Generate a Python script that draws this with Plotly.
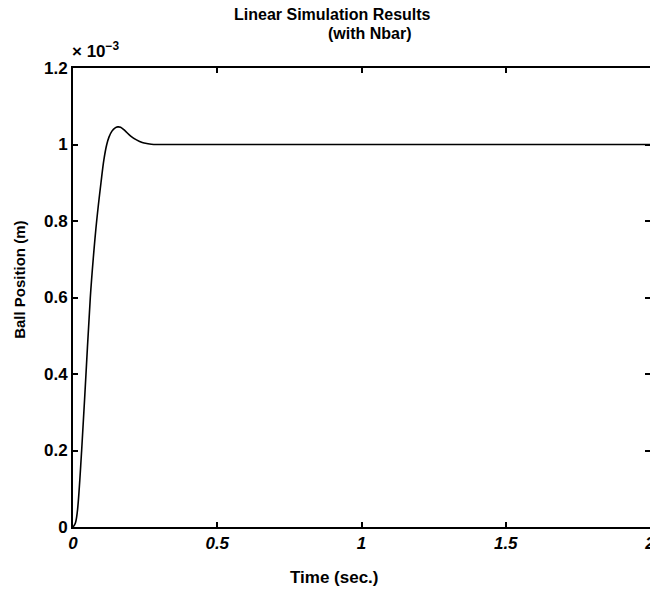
import plotly.graph_objects as go

# Closed-loop step response of the ball position (values in units of 1e-3 m)
time_s = [0, 0.008, 0.015, 0.030, 0.045, 0.060, 0.070, 0.082, 0.097, 0.107,
          0.117, 0.125, 0.135, 0.145, 0.155, 0.165, 0.180, 0.200,
          0.220, 0.240, 0.260, 0.280, 0.300, 2.0]
position_e3 = [0, 0.01, 0.04, 0.20, 0.40, 0.60, 0.70, 0.80, 0.90, 0.96,
               1.0, 1.02, 1.035, 1.043, 1.046, 1.045, 1.036, 1.022,
               1.012, 1.005, 1.002, 1.0, 1.0, 1.0]

x_ticks = [0, 0.5, 1, 1.5, 2]
x_tick_text = ["0", "0.5", "1", "1.5", "2"]
y_ticks = [0, 0.2, 0.4, 0.6, 0.8, 1.0, 1.2]
y_tick_text = ["0", "0.2", "0.4", "0.6", "0.8", "1", "1.2"]

FONT = "Liberation Sans, Arial, sans-serif"

fig = go.Figure()
fig.add_trace(go.Scatter(
    x=time_s, y=position_e3, mode="lines",
    line=dict(color="black", width=1.6, shape="spline", smoothing=1.0),
    showlegend=False, hoverinfo="skip",
))

axis_common = dict(
    showline=True, linecolor="black", linewidth=2, mirror="ticks",
    ticks="inside", ticklen=5, tickwidth=1.5, tickcolor="black",
    showgrid=False, zeroline=False, ticklabeloverflow="allow",
    automargin=False,
)

fig.update_xaxes(
    range=[0, 2], tickvals=x_ticks, ticktext=x_tick_text,
    tickfont=dict(family=FONT, size=17, color="black", style="italic", weight="bold"),
    **axis_common,
)
fig.update_yaxes(
    range=[0, 1.2], tickvals=y_ticks, ticktext=y_tick_text,
    tickfont=dict(family=FONT, size=17, color="black", weight="bold"),
    **axis_common,
)

fig.update_layout(
    width=650, height=591,
    margin=dict(l=73, r=0, t=68, b=64, autoexpand=False),
    paper_bgcolor="white", plot_bgcolor="white",
    font=dict(family=FONT, color="black"),
)

title_font = dict(family=FONT, size=16, color="black", weight="bold")
fig.add_annotation(text="Linear Simulation Results", xref="paper", yref="paper",
                   x=0.4506, y=1.117, xanchor="center", yanchor="middle",
                   showarrow=False, font=title_font)
fig.add_annotation(text="(with Nbar)", xref="paper", yref="paper",
                   x=0.5147, y=1.075, xanchor="center", yanchor="middle",
                   showarrow=False, font=title_font)
fig.add_annotation(text="Time (sec.)", xref="paper", yref="paper",
                   x=0.454, y=-0.109, xanchor="center", yanchor="middle",
                   showarrow=False, font=dict(family=FONT, size=17, color="black", weight="bold"))
fig.add_annotation(text="Ball Position (m)", xref="paper", yref="paper",
                   x=-0.094, y=0.538, xanchor="center", yanchor="middle",
                   textangle=-90, showarrow=False, font=dict(family=FONT, size=15, color="black", weight="bold"))
fig.add_annotation(text="\u00d7 10<sup>\u22123</sup>", xref="paper", yref="paper",
                   x=-0.006, y=1.04, xanchor="left", yanchor="middle",
                   showarrow=False, font=dict(family=FONT, size=17, color="black", weight="bold"))

fig.write_html("out.html")
